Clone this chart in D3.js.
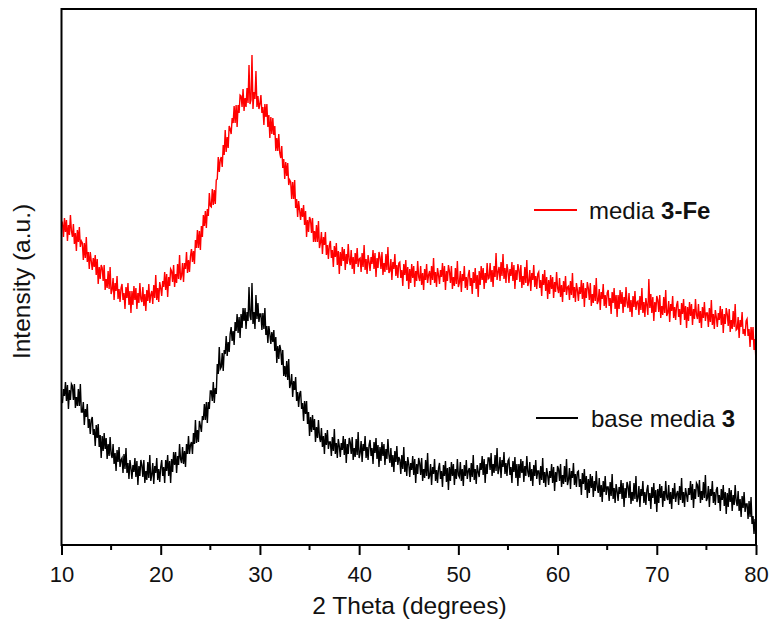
<!DOCTYPE html>
<html>
<head>
<meta charset="utf-8">
<script src="https://cdn.jsdelivr.net/npm/d3@7"></script>
<style>
  html, body { margin: 0; padding: 0; background: #fff; }
  svg { display: block; font-family: Arial, "Liberation Sans", sans-serif; }
</style>
</head>
<body>
<svg id="chart" width="773" height="621"></svg>
<script>
// 2θ scan grid: 10° to 80°, 0.1° step
const twoTheta = d3.range(0, 701).map(i => +(10 + i * 0.1).toFixed(1));

// XRD intensities (arbitrary units), media 3-Fe — one row per degree
const media3Fe = [
  320,
  322,308,327,313,325,304,320,310,330,314,
  308,321,301,312,294,315,303,318,298,304,
  302,285,302,287,308,283,293,276,293,284,
  275,287,278,290,270,286,261,278,266,280,
  277,264,280,255,266,257,274,256,278,251,
  255,267,245,262,254,269,246,256,243,257,
  261,245,252,236,258,247,262,240,254,232,
  254,240,259,245,257,236,252,242,262,246,
  243,258,239,251,234,255,244,261,242,250,
  254,241,260,247,270,245,257,243,263,257,
  249,264,258,273,255,271,248,268,259,276,
  274,263,280,258,271,262,281,266,290,265,
  269,282,263,282,276,293,272,285,273,289,
  296,283,294,281,305,297,315,297,314,295,
  319,308,330,319,334,317,336,329,352,339,
  338,356,340,355,341,365,366,388,373,385,
  388,378,400,390,415,393,408,397,419,416,
  411,427,422,439,422,440,418,440,432,450,
  449,438,456,434,447,438,457,442,480,441,
  445,490,436,453,446,474,438,449,436,441,
  450,432,438,420,441,428,441,418,430,407,
  428,411,427,410,419,394,407,394,411,392,
  387,399,377,386,366,383,369,382,360,365,
  363,346,363,346,365,337,346,328,344,335,
  325,337,328,340,320,334,308,325,313,328,
  325,312,327,303,314,303,320,303,324,297,
  302,313,291,308,300,313,290,300,286,300,
  304,287,295,278,299,288,302,280,294,271,
  293,279,298,284,296,275,291,281,301,285,
  280,295,276,288,271,292,281,297,278,286,
  287,273,292,278,300,275,286,271,290,283,
  274,288,281,295,276,292,268,287,277,293,
  288,276,293,270,282,273,291,275,298,272,
  274,286,265,283,276,291,269,280,267,282,
  283,267,275,259,281,270,285,264,278,256,
  276,262,281,267,279,258,274,264,284,268,
  264,279,260,272,255,276,265,281,262,270,
  274,260,279,265,287,262,273,258,277,270,
  261,275,268,282,263,279,255,274,264,280,
  274,262,279,256,268,259,277,261,284,258,
  262,274,253,271,264,279,257,268,255,270,
  275,259,267,251,273,262,277,256,270,248,
  274,260,279,265,277,256,272,262,282,266,
  267,282,263,275,258,279,268,292,265,273,
  278,264,283,269,291,266,277,262,281,274,
  262,276,269,283,264,280,256,275,265,281,
  275,263,280,257,269,260,278,262,285,259,
  263,275,254,272,265,280,258,269,256,271,
  273,257,265,249,271,260,275,254,268,246,
  265,251,270,256,268,247,263,253,273,257,
  252,267,248,260,243,264,253,269,250,258,
  259,245,264,250,272,247,258,243,262,255,
  244,258,251,265,246,262,238,257,247,263,
  257,245,262,239,251,242,260,244,267,241,
  244,256,235,253,246,261,239,250,237,252,
  255,239,247,231,253,242,257,236,250,228,
  250,236,255,241,253,232,248,238,258,242,
  237,252,233,245,228,249,238,254,235,243,
  244,230,249,235,257,232,243,228,247,240,
  230,266,237,251,232,248,224,243,233,249,
  245,233,250,227,239,230,248,232,255,229,
  232,244,223,241,234,249,227,238,225,240,
  244,228,236,220,242,231,246,225,239,217,
  238,224,243,229,241,220,236,226,246,230,
  226,241,222,234,217,238,227,243,224,232,
  232,218,237,223,245,220,231,216,235,228,
  218,232,225,239,220,236,212,231,221,237,
  231,219,236,213,225,216,234,218,241,215,
  216,228,207,225,218,233,211,216,209,224,
  226,209,216,198,218,205,218,195,206,182
];

// XRD intensities (arbitrary units), base media 3 — one row per degree
const baseMedia3 = [
  146,
  142,156,149,163,144,160,136,155,145,161,
  159,145,161,137,148,139,156,139,161,133,
  133,143,120,136,128,141,117,126,111,125,
  128,110,116,99,120,107,121,98,110,87,
  109,94,112,96,107,86,101,89,108,91,
  87,101,81,92,74,95,83,98,78,85,
  87,72,91,76,97,72,82,66,85,77,
  66,80,73,87,68,84,60,79,69,85,
  80,68,85,62,74,65,83,67,90,64,
  70,82,61,79,72,87,65,76,63,78,
  85,69,78,62,85,74,90,69,84,62,
  86,73,93,80,93,72,89,80,101,86,
  82,98,81,94,78,101,91,109,91,100,
  103,91,112,101,125,102,115,103,124,119,
  113,129,125,141,125,143,122,143,136,154,
  154,144,163,142,157,151,181,171,198,176,
  178,192,174,195,191,209,189,203,193,211,
  218,204,214,200,223,214,231,212,228,207,
  231,217,237,224,237,216,233,224,258,229,
  225,262,221,233,216,250,226,242,223,231,
  231,215,232,216,237,210,219,202,219,211,
  201,213,203,215,194,208,182,199,186,200,
  195,180,195,169,179,168,184,165,186,157,
  161,171,148,164,155,168,144,153,138,151,
  154,136,142,124,144,131,144,121,133,109,
  128,113,130,115,126,103,118,107,125,108,
  103,117,98,109,91,112,100,115,96,103,
  103,89,108,94,116,91,102,87,106,99,
  88,102,95,109,90,106,82,101,91,107,
  103,91,108,85,97,88,106,90,113,87,
  92,104,83,101,94,109,87,98,85,100,
  105,89,97,81,103,92,107,86,100,78,
  98,84,103,89,101,80,96,86,106,90,
  82,97,78,90,73,94,83,99,80,88,
  85,71,90,76,98,73,84,69,88,81,
  68,82,75,89,70,86,62,81,71,87,
  82,70,87,64,76,67,85,69,92,66,
  69,81,60,78,71,86,64,75,62,77,
  82,66,74,58,80,69,84,63,77,55,
  78,64,83,69,81,60,76,66,86,70,
  68,83,64,76,59,80,69,85,66,74,
  77,63,82,68,90,65,76,61,80,73,
  68,82,75,89,70,86,62,81,71,87,
  87,75,92,69,81,72,90,74,97,71,
  76,88,67,85,78,93,71,82,69,84,
  86,70,78,62,84,73,88,67,81,59,
  81,67,86,72,84,63,79,69,89,73,
  68,83,64,76,59,80,69,85,66,74,
  74,60,79,65,87,62,73,58,77,70,
  60,74,67,81,62,78,54,73,63,79,
  76,64,81,58,70,61,79,63,86,60,
  65,77,56,74,67,82,60,71,58,73,
  74,58,66,50,72,61,76,55,69,47,
  66,52,71,57,69,48,64,54,74,58,
  52,67,48,60,43,64,53,69,50,58,
  58,44,63,49,71,46,57,42,61,54,
  44,58,51,65,46,62,38,57,47,63,
  59,47,64,41,53,44,62,46,69,43,
  47,59,38,56,49,64,42,53,40,55,
  60,44,52,36,58,47,62,41,55,33,
  56,42,61,47,59,38,54,44,64,48,
  45,60,41,53,36,57,46,62,43,51,
  54,40,59,45,67,42,53,38,57,50,
  43,57,50,64,45,61,37,56,46,62,
  60,48,65,42,54,45,63,47,70,44,
  47,59,38,56,49,64,42,53,40,55,
  58,42,50,34,56,45,60,39,53,31,
  52,38,57,43,55,34,50,40,60,44,
  39,54,34,46,28,49,37,53,33,41,
  41,26,44,28,48,21,29,11,26,15
];

const xTicks = [10, 20, 30, 40, 50, 60, 70, 80];
const minorTicks = [15, 25, 35, 45, 55, 65, 75];
const seriesColors = ["#ff0000", "#000000"];

const svg = d3.select("#chart");
const plotL = 61.5, plotR = 756, plotT = 9, plotB = 545;

const x = d3.scaleLinear().domain([10, 80]).range([plotL, plotR]);
const y = d3.scaleLinear().domain([0, 536]).range([plotB, plotT]);

const line = d3.line()
  .x((d, i) => x(twoTheta[i]))
  .y(d => y(d));

svg.append("clipPath").attr("id", "plotClip")
  .append("rect").attr("x", plotL).attr("y", plotT)
  .attr("width", plotR - plotL).attr("height", plotB - plotT);

const plot = svg.append("g").attr("clip-path", "url(#plotClip)");

[media3Fe, baseMedia3].forEach((vals, k) => {
  plot.append("path")
    .datum(vals)
    .attr("fill", "none")
    .attr("stroke", seriesColors[k])
    .attr("stroke-width", 1.4)
    .attr("d", line);
});

// frame
svg.append("rect")
  .attr("x", plotL).attr("y", plotT)
  .attr("width", plotR - plotL).attr("height", plotB - plotT)
  .attr("fill", "none").attr("stroke", "#000").attr("stroke-width", 2);

// bottom axis: major ticks every 10°, minor every 5°
const xAxis = d3.axisBottom(x).tickValues(xTicks).tickSize(10).tickPadding(11)
  .tickFormat(d3.format("d"));
const ax = svg.append("g").attr("transform", `translate(0,${plotB})`).call(xAxis);
ax.select(".domain").remove();
ax.selectAll(".tick line").attr("stroke", "#000").attr("stroke-width", 2);
ax.selectAll(".tick text").attr("font-size", 22).attr("fill", "#111")
  .attr("font-family", "Arial, 'Liberation Sans', sans-serif");

svg.append("g").selectAll("line").data(minorTicks).join("line")
  .attr("x1", d => x(d)).attr("x2", d => x(d))
  .attr("y1", plotB).attr("y2", plotB + 5)
  .attr("stroke", "#000").attr("stroke-width", 2);

// axis titles
svg.append("text")
  .attr("x", 409.5).attr("y", 614)
  .attr("text-anchor", "middle").attr("font-size", 24.5).attr("fill", "#111")
  .text("2 Theta (degrees)");

svg.append("text")
  .attr("transform", "translate(30,281.5) rotate(-90)")
  .attr("text-anchor", "middle").attr("font-size", 24.5).attr("fill", "#111")
  .text("Intensity (a.u.)");

// legend entries placed beside each trace
const legend = [
  { color: seriesColors[0], x1: 534, x2: 577, tx: 589, y: 210, plain: "media ", bold: "3-Fe" },
  { color: seriesColors[1], x1: 536, x2: 578, tx: 591, y: 418, plain: "base media ", bold: "3" }
];
legend.forEach(l => {
  svg.append("line")
    .attr("x1", l.x1).attr("x2", l.x2).attr("y1", l.y).attr("y2", l.y)
    .attr("stroke", l.color).attr("stroke-width", 2);
  const t = svg.append("text")
    .attr("x", l.tx).attr("y", l.y + 8.5)
    .attr("font-size", 24).attr("fill", "#111");
  t.append("tspan").text(l.plain);
  t.append("tspan").attr("font-weight", "bold").text(l.bold);
});
</script>
</body>
</html>
